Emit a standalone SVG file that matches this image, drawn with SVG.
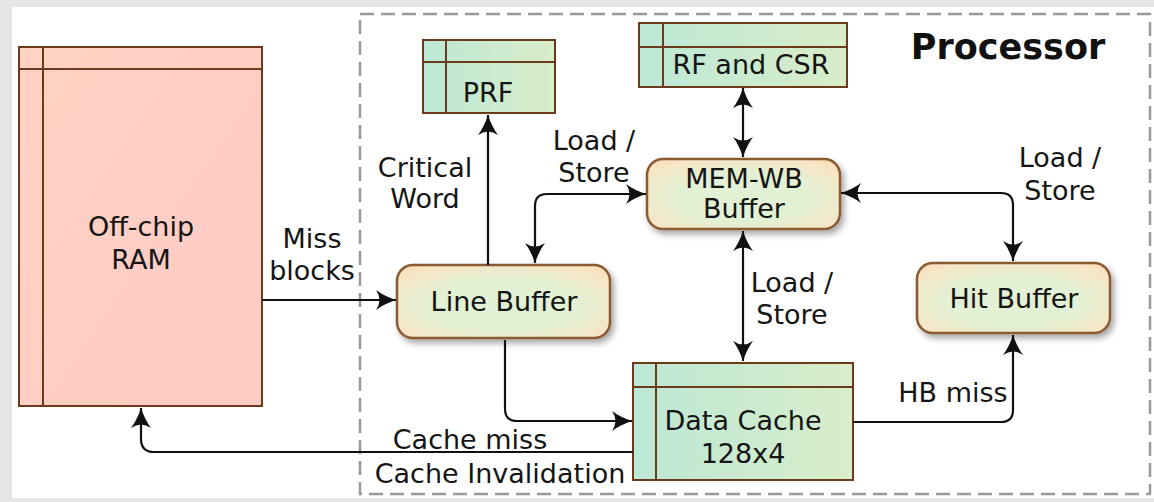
<svg xmlns="http://www.w3.org/2000/svg" width="1154" height="502" viewBox="0 0 1154 502">
<style>
text{font-family:"DejaVu Sans","Liberation Sans",sans-serif;font-size:27px;fill:#151515;text-anchor:middle}
.tbl{stroke:#6b3a1a;stroke-width:2}
.rnd{fill:url(#rg);stroke:#8a5a30;stroke-width:2.5;filter:url(#sh)}
.conn{fill:none;stroke:#111;stroke-width:2.2}
.bold{font-weight:bold;font-size:35px;fill:#111}
</style>
<defs>
<linearGradient id="tg" x1="0" y1="0" x2="1" y2="0"><stop offset="0" stop-color="#bce8d6"/><stop offset="1" stop-color="#d9edc9"/></linearGradient>
<linearGradient id="pg" x1="0" y1="0" x2="1" y2="1"><stop offset="0" stop-color="#ffd3c4"/><stop offset="1" stop-color="#ffc9c4"/></linearGradient>
<radialGradient id="rg" cx="0.5" cy="0.55" r="0.75"><stop offset="0.45" stop-color="#e2f0d3"/><stop offset="0.8" stop-color="#f7e6c6"/><stop offset="1" stop-color="#fdd6ae"/></radialGradient>
<filter id="sh" x="-10%" y="-20%" width="130%" height="150%"><feDropShadow dx="3" dy="4" stdDeviation="3" flood-color="#000" flood-opacity="0.35"/></filter>
<marker id="ah" viewBox="-23 -11 24 22" refX="0" refY="0" markerWidth="24" markerHeight="22" markerUnits="userSpaceOnUse" orient="auto-start-reverse"><path d="M0,0 Q-12,-4 -20,-10 Q-13,0 -20,10 Q-12,4 0,0 Z" fill="#111"/></marker>
</defs>
<rect x="0" y="0" width="1154" height="502" fill="#e6e6e6"/>
<rect x="12" y="7" width="1142" height="491" fill="#ffffff"/>
<rect x="360" y="14" width="790" height="480" fill="none" stroke="#9a9a9a" stroke-width="2.5" stroke-dasharray="14 7"/>
<text class="bold" x="1008" y="59">Processor</text>

<g id="ram">
<rect x="19" y="47" width="243" height="359" fill="url(#pg)" class="tbl" stroke="#7a3a2a"/>
<line x1="43" y1="47" x2="43" y2="406" class="tbl"/>
<line x1="19" y1="69" x2="262" y2="69" class="tbl"/>
<text x="141" y="236">Off-chip</text>
<text x="141" y="269">RAM</text>
</g>
<g id="prf">
<rect x="423" y="40" width="132" height="73" fill="url(#tg)" class="tbl"/>
<line x1="446" y1="40" x2="446" y2="113" class="tbl"/>
<line x1="423" y1="62" x2="555" y2="62" class="tbl"/>
<text x="488" y="102">PRF</text>
</g>
<g id="rfcsr">
<rect x="639" y="23" width="208" height="64" fill="url(#tg)" class="tbl"/>
<line x1="663" y1="23" x2="663" y2="87" class="tbl"/>
<line x1="639" y1="47" x2="847" y2="47" class="tbl"/>
<text x="751" y="74">RF and CSR</text>
</g>
<g id="memwb">
<rect x="647" y="159" width="193" height="70" rx="16" class="rnd"/>
<text x="744" y="188">MEM-WB</text>
<text x="744" y="218">Buffer</text>
</g>
<g id="linebuf">
<rect x="397" y="265" width="213" height="73" rx="16" class="rnd"/>
<text x="504" y="311">Line Buffer</text>
</g>
<g id="hitbuf">
<rect x="917" y="263" width="193" height="70" rx="16" class="rnd"/>
<text x="1014" y="308">Hit Buffer</text>
</g>
<g id="dcache">
<rect x="633" y="363" width="220" height="117" fill="url(#tg)" class="tbl"/>
<line x1="656" y1="363" x2="656" y2="480" class="tbl"/>
<line x1="633" y1="387" x2="853" y2="387" class="tbl"/>
<text x="743" y="430">Data Cache</text>
<text x="743" y="463">128x4</text>
</g>

<g id="connectors">
<path class="conn" d="M262,300 H396" marker-end="url(#ah)"/>
<path class="conn" d="M488,265 V115" marker-end="url(#ah)"/>
<path class="conn" d="M646,194 H547 Q535,194 535,206 V263" marker-start="url(#ah)" marker-end="url(#ah)"/>
<path class="conn" d="M743,88 V157" marker-start="url(#ah)" marker-end="url(#ah)"/>
<path class="conn" d="M743,231 V361" marker-start="url(#ah)" marker-end="url(#ah)"/>
<path class="conn" d="M841,193 H1001 Q1013,193 1013,205 V261" marker-start="url(#ah)" marker-end="url(#ah)"/>
<path class="conn" d="M505,340 V409 Q505,421 517,421 H632" marker-end="url(#ah)"/>
<path class="conn" d="M633,452 H154 Q141,452 141,439 V408" marker-end="url(#ah)"/>
<path class="conn" d="M853,422 H1001 Q1013,422 1013,410 V335" marker-end="url(#ah)"/>
<text x="312" y="248">Miss</text>
<text x="312" y="280">blocks</text>
<text x="425" y="177">Critical</text>
<text x="425" y="208">Word</text>
<text x="594" y="150">Load /</text>
<text x="594" y="182">Store</text>
<text x="1060" y="167">Load /</text>
<text x="1060" y="200">Store</text>
<text x="792" y="292">Load /</text>
<text x="792" y="324">Store</text>
<text x="953" y="402">HB miss</text>
<text x="470" y="449">Cache miss</text>
<text x="500" y="483">Cache Invalidation</text>
</g>
</svg>
